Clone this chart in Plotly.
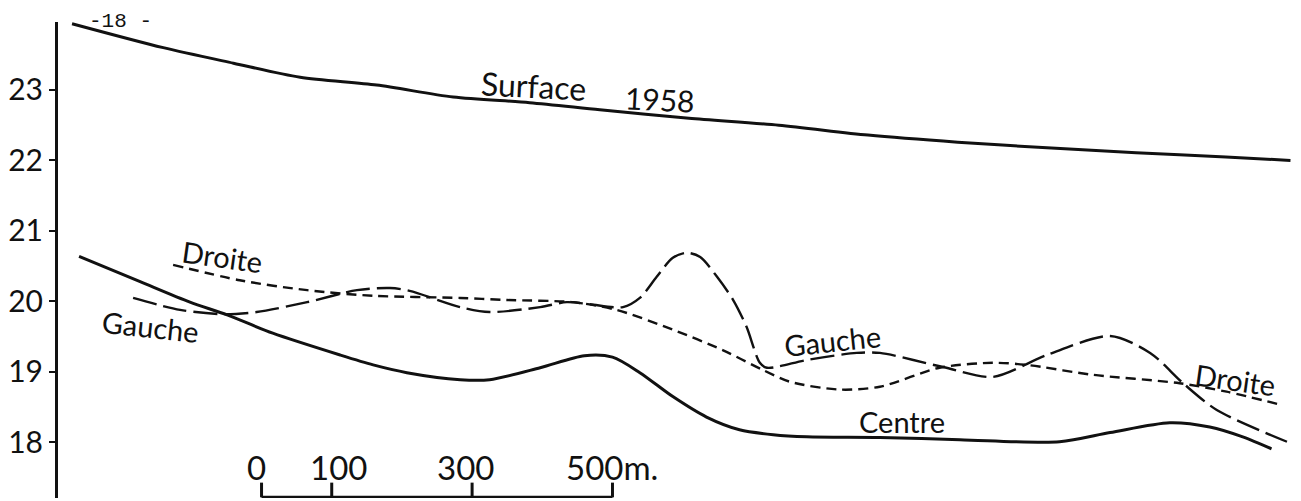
import plotly.graph_objects as go

# ── Profile data (distance along reach in metres, elevation in m) ──────────────

surface_x = [20, 150, 250, 345, 454, 563, 672, 772, 899, 1027, 1154, 1282, 1409, 1536, 1664, 1756]
surface_y = [23.94, 23.60, 23.38, 23.18, 23.07, 22.90, 22.82, 22.72, 22.60, 22.50, 22.36, 22.26,
             22.18, 22.11, 22.05, 22.00]

centre_x = [30, 117, 188, 241, 306, 402, 449, 497, 573, 615, 687, 750, 790, 829, 876, 924, 971, 1019,
            1067, 1171, 1285, 1427, 1499, 1584, 1641, 1688, 1729]
centre_y = [20.64, 20.28, 19.99, 19.81, 19.55, 19.24, 19.10, 18.99, 18.89, 18.89, 19.06, 19.23, 19.21,
            18.99, 18.65, 18.36, 18.18, 18.11, 18.08, 18.07, 18.04, 18.01, 18.14, 18.28, 18.22, 18.08, 17.91]

droite_x = [164, 259, 355, 449, 573, 640, 734, 796, 876, 947, 1004, 1043, 1114, 1171, 1256, 1332, 1380,
            1474, 1598, 1665, 1744]
droite_y = [20.52, 20.30, 20.16, 20.08, 20.05, 20.02, 19.99, 19.88, 19.60, 19.31, 19.03, 18.86, 18.75,
            18.79, 19.06, 19.13, 19.10, 18.96, 18.84, 18.72, 18.53]

gauche_x = [107, 174, 235, 283, 355, 426, 473, 501, 573, 615, 687, 725, 758, 805, 829, 853, 876, 896,
            915, 939, 962, 981, 1000, 1010, 1067, 1138, 1171, 1261, 1332, 1409, 1499, 1556, 1603, 1651, 1751]
gauche_y = [20.05, 19.88, 19.82, 19.85, 19.99, 20.16, 20.19, 20.15, 19.92, 19.85, 19.92, 19.99, 19.96,
            19.92, 20.05, 20.35, 20.62, 20.69, 20.63, 20.35, 20.02, 19.64, 19.13, 19.06, 19.17, 19.27,
            19.27, 19.07, 18.93, 19.24, 19.51, 19.27, 18.84, 18.46, 18.01]

elev_ticks = [18, 19, 20, 21, 22, 23]
scale_ticks = [0, 100, 300, 500]
scale_labels = ["0", "100", "300", "500m."]

# ── Style ──────────────────────────────────────────────────────────────────────

INK = "#111111"
LETTER = "Lato"
X_RANGE = [0, 1771]
Y_RANGE = [17.212, 23.964]
SCALE_X0 = 290           # where the scale bar starts, in axis metres
SCALE_BAR_Y = 17.222
SCALE_TICK_TOP = 17.43
SCALE_LABEL_SHIFT = [-5, 7, -7, 0]   # hand lettering sits a little off the ticks

fig = go.Figure()


def _profile(x, y, dash, width):
    fig.add_trace(go.Scatter(
        x=x, y=y, mode="lines",
        line=dict(color=INK, width=width, dash=dash, shape="spline", smoothing=0.8),
        hoverinfo="skip",
    ))


_profile(surface_x, surface_y, "solid", 3)
_profile(centre_x, centre_y, "solid", 3)
_profile(droite_x, droite_y, "10px,6px", 2.4)
_profile(gauche_x, gauche_y, "24px,7px", 2.4)

# scale bar along the bottom
bar_x = [SCALE_X0, SCALE_X0 + scale_ticks[-1]]
bar_y = [SCALE_BAR_Y, SCALE_BAR_Y]
for t in scale_ticks:
    bar_x += [None, SCALE_X0 + t, SCALE_X0 + t]
    bar_y += [None, SCALE_BAR_Y, SCALE_TICK_TOP]
fig.add_trace(go.Scatter(
    x=bar_x, y=bar_y, mode="lines", cliponaxis=False,
    line=dict(color=INK, width=3), hoverinfo="skip",
))
for t, lab, dx in zip(scale_ticks, scale_labels, SCALE_LABEL_SHIFT):
    fig.add_annotation(
        x=SCALE_X0 + t, y=17.65, text=lab, showarrow=False, xshift=dx,
        font=dict(family=LETTER, size=33, color=INK),
    )

# curve labels
labels = [
    ("Surface", 677, 23.07, 3, 32),
    ("1958", 858, 22.87, 3, 30),
    ("Droite", 235, 20.64, 8, 29),
    ("Gauche", 132, 19.64, 6, 29),
    ("Gauche", 1103, 19.44, -6, 29),
    ("Centre", 1202, 18.30, 0, 29),
    ("Droite", 1678, 18.90, 8, 29),
]
for text, x, y, ang, size in labels:
    fig.add_annotation(
        x=x, y=y, text=text, showarrow=False, textangle=ang,
        font=dict(family=LETTER, size=size, color=INK),
    )

# page number
fig.add_annotation(
    x=0.05, y=1.0021, xref="paper", yref="paper", text="-18 -", showarrow=False,
    xanchor="center", yanchor="middle",
    font=dict(family="Liberation Mono", size=21, color=INK),
)

# the page body sits 8px in from the window edge
fig.update_layout(
    width=1293, height=493,
    plot_bgcolor="white", paper_bgcolor="white",
    showlegend=False,
    margin=dict(l=50, r=0, t=14, b=3),
    xaxis=dict(range=X_RANGE, visible=False, showgrid=False, zeroline=False),
    yaxis=dict(
        range=Y_RANGE, tickvals=elev_ticks, ticktext=[str(v) for v in elev_ticks],
        ticks="outside", ticklen=6, tickwidth=2, tickcolor=INK,
        showline=True, linewidth=3, linecolor=INK,
        showgrid=False, zeroline=False,
        tickfont=dict(family=LETTER, size=30, color=INK),
    ),
)

fig.write_html("out.html")
